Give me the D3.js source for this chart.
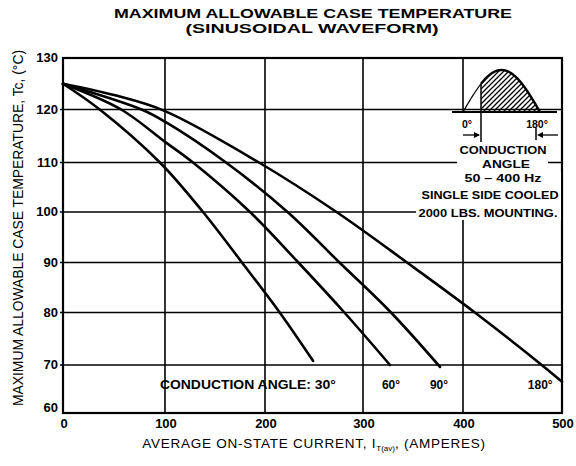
<!DOCTYPE html>
<html>
<head>
<meta charset="utf-8">
<script src="https://cdn.jsdelivr.net/npm/d3@7/dist/d3.min.js"></script>
<style>
  body { margin: 0; background: #fff; }
  svg { display: block; font-family: "Liberation Sans", Arial, sans-serif; }
</style>
</head>
<body>
<svg id="chart" width="576" height="466"></svg>
<script>

// ---- data ----
var xTicks = [0, 100, 200, 300, 400, 500];
var yTicks = [60, 70, 80, 90, 100, 110, 120, 130];

// [current A, case temp C]
var curve30  = [[0, 125], [36, 120], [95, 110], [138, 100], [177, 90], [215, 80], [249, 70.8]];
var curve60  = [[0, 125], [57, 120], [100, 113.9], [128, 110], [185, 100], [234, 90], [281, 80], [327, 70]];
var curve90  = [[0, 125], [77, 120], [100, 117.7], [161, 110], [223, 100], [276, 90], [328, 80], [377, 69.6]];
var curve180 = [[0, 125], [50, 122.8], [100, 119.7], [194, 110], [273, 100], [344, 90], [412, 80], [482, 69.6], [500, 66.5]];

var curveLabels = ["CONDUCTION ANGLE: 30°", "60°", "90°", "180°"];
var curveLabelX = [95, 328, 376, 478];   // amperes, where each label sits
var curveLabelT = 66.3;                  // temperature row of the labels

var insetLines = ["CONDUCTION", "ANGLE", "50 – 400 Hz", "SINGLE SIDE COOLED", "2000 LBS. MOUNTING."];


(function () {

    "use strict";

    var svg = d3.select("#chart");

    // the scanned grid is not quite even, so follow its lines
    var x = d3.scaleLinear().domain(xTicks).range([63, 165, 265, 363, 463, 562]),
        y = d3.scaleLinear().domain(yTicks).range([413, 365, 312.5, 262.5, 212, 162.5, 109.5, 58]);

    // title
    svg.append("text")
        .attr("x", 313).attr("y", 18)
        .attr("text-anchor", "middle")
        .attr("font-weight", "bold").attr("font-size", 13)
        .attr("textLength", 398).attr("lengthAdjust", "spacingAndGlyphs")
        .text("MAXIMUM ALLOWABLE CASE TEMPERATURE");
    svg.append("text")
        .attr("x", 312).attr("y", 33)
        .attr("text-anchor", "middle")
        .attr("font-weight", "bold").attr("font-size", 13)
        .attr("textLength", 253).attr("lengthAdjust", "spacingAndGlyphs")
        .text("(SINUSOIDAL WAVEFORM)");

    // grid
    var grid = svg.append("g").attr("stroke", "#000").attr("stroke-width", 1.6);

    grid.selectAll("line.v")
        .data(xTicks.slice(1, -1))
        .enter().append("line")
        .attr("x1", function (d) { return x(d); })
        .attr("x2", function (d) { return x(d); })
        .attr("y1", y(130)).attr("y2", y(60));

    grid.selectAll("line.h")
        .data(yTicks.slice(1, -1))
        .enter().append("line")
        .attr("x1", x(0) - 3).attr("x2", x(500))
        .attr("y1", function (d) { return y(d); })
        .attr("y2", function (d) { return y(d); });

    // frame
    svg.append("rect")
        .attr("x", x(0)).attr("y", y(130))
        .attr("width", x(500) - x(0)).attr("height", y(60) - y(130))
        .attr("fill", "none").attr("stroke", "#000").attr("stroke-width", 2.2);

    // blank out grid behind the inset notes
    svg.append("rect").attr("x", 457).attr("y", 113).attr("width", 91).attr("height", 60).attr("fill", "#fff");
    svg.append("rect").attr("x", 416).attr("y", 172).attr("width", 145).attr("height", 48).attr("fill", "#fff");

    // axis labels
    svg.append("g")
        .attr("font-weight", "bold").attr("font-size", 13)
        .selectAll("text")
        .data(xTicks)
        .enter().append("text")
        .attr("x", function (d) { return x(d) + 1; })
        .attr("y", 428)
        .attr("text-anchor", "middle")
        .text(function (d) { return d; });

    svg.append("g")
        .attr("font-weight", "bold").attr("font-size", 13)
        .selectAll("text")
        .data(yTicks)
        .enter().append("text")
        .attr("x", 58)
        .attr("y", function (d) { return y(d) + (d === 60 ? -1 : 4); })
        .attr("text-anchor", "end")
        .text(function (d) { return d; });

    var xt = svg.append("text")
        .attr("x", 314).attr("y", 448)
        .attr("text-anchor", "middle")
        .attr("font-size", 13.5)
        .attr("letter-spacing", 0.75);
    xt.append("tspan").text("AVERAGE ON-STATE CURRENT, I");
    xt.append("tspan").attr("font-size", 8).attr("dy", 3).attr("letter-spacing", 0).text("T(av)");
    xt.append("tspan").attr("dy", -3).text(", (AMPERES)");

    svg.append("text")
        .attr("transform", "translate(23,228) rotate(-90)")
        .attr("text-anchor", "middle")
        .attr("font-size", 14)
        .attr("textLength", 356).attr("lengthAdjust", "spacingAndGlyphs")
        .text("MAXIMUM ALLOWABLE CASE TEMPERATURE, Tc, (°C)");

    // curves
    var line = d3.line()
        .x(function (d) { return x(d[0]); })
        .y(function (d) { return y(d[1]); })
        .curve(d3.curveCatmullRom.alpha(0.5));

    svg.append("g")
        .attr("fill", "none").attr("stroke", "#000")
        .attr("stroke-width", 2.6).attr("stroke-linecap", "round")
        .selectAll("path")
        .data([curve30, curve60, curve90, curve180])
        .enter().append("path")
        .attr("d", line);

    svg.append("g")
        .attr("font-weight", "bold").attr("font-size", 12)
        .selectAll("text")
        .data(curveLabels)
        .enter().append("text")
        .attr("x", function (d, i) { return x(curveLabelX[i]); })
        .attr("y", y(curveLabelT) + 6)
        .attr("text-anchor", function (d, i) { return i === 0 ? "start" : "middle"; })
        .attr("textLength", function (d, i) { return i === 0 ? 176 : null; })
        .attr("lengthAdjust", "spacingAndGlyphs")
        .text(function (d) { return d; });

    // ---- inset: conduction angle sketch ----
    var ins = svg.append("g");
    var bx0 = 463, bx1 = 540, by = 112, bh = 42, cut = 481;

    function hump(px) { return by - bh * Math.sin(Math.PI * (px - bx0) / (bx1 - bx0)); }

    var defs = svg.append("defs");
    defs.append("pattern")
        .attr("id", "hatch").attr("patternUnits", "userSpaceOnUse")
        .attr("width", 5).attr("height", 5)
        .append("path")
        .attr("d", "M-1,1 l2,-2 M0,5 l5,-5 M4,6 l2,-2")
        .attr("stroke", "#000").attr("stroke-width", 1.3);

    var left = d3.range(bx0, cut + 0.5, 1).map(function (p) { return [p, hump(p)]; }),
        right = d3.range(cut, bx1 + 0.5, 1).map(function (p) { return [p, hump(p)]; });

    ins.append("path")
        .attr("d", d3.line()(left))
        .attr("fill", "none").attr("stroke", "#000").attr("stroke-width", 1.2);

    ins.append("path")
        .attr("d", d3.line()([[cut, by]].concat(right, [[bx1, by]])) + "Z")
        .attr("fill", "url(#hatch)").attr("stroke", "none");
    ins.append("path")
        .attr("d", d3.line()(right))
        .attr("fill", "none").attr("stroke", "#000").attr("stroke-width", 2.4);

    ins.append("line").attr("x1", 452).attr("x2", 557).attr("y1", by).attr("y2", by)
        .attr("stroke", "#000").attr("stroke-width", 2);
    ins.append("line").attr("x1", cut).attr("x2", cut).attr("y1", hump(cut)).attr("y2", 142)
        .attr("stroke", "#000").attr("stroke-width", 1.5);
    ins.append("line").attr("x1", bx1 - 4).attr("x2", bx1 - 4).attr("y1", 128).attr("y2", 140)
        .attr("stroke", "#000").attr("stroke-width", 1.5);

    // arrows
    ins.append("path").attr("d", "M463,135 H479").attr("stroke", "#000").attr("stroke-width", 1.3);
    ins.append("path").attr("d", "M480,135 l-6,-3 v6 Z").attr("fill", "#000");
    ins.append("path").attr("d", "M558,135 H539").attr("stroke", "#000").attr("stroke-width", 1.3);
    ins.append("path").attr("d", "M537,135 l6,-3 v6 Z").attr("fill", "#000");

    ins.append("text").attr("x", 467).attr("y", 128).attr("text-anchor", "middle")
        .attr("font-weight", "bold").attr("font-size", 10.5).text("0°");
    ins.append("text").attr("x", 537).attr("y", 128).attr("text-anchor", "middle")
        .attr("font-weight", "bold").attr("font-size", 10.5).text("180°");

    var insX = [503, 506, 503, 490, 488],
        insY = [154, 168, 182, 199, 217],
        insW = [87, 48, 77, 137, 139];

    ins.selectAll("text.note")
        .data(insetLines)
        .enter().append("text")
        .attr("x", function (d, i) { return insX[i]; })
        .attr("y", function (d, i) { return insY[i]; })
        .attr("text-anchor", "middle")
        .attr("font-weight", "bold").attr("font-size", 10.5)
        .attr("textLength", function (d, i) { return insW[i]; })
        .attr("lengthAdjust", "spacingAndGlyphs")
        .text(function (d) { return d; });

}());
</script>
</body>
</html>
